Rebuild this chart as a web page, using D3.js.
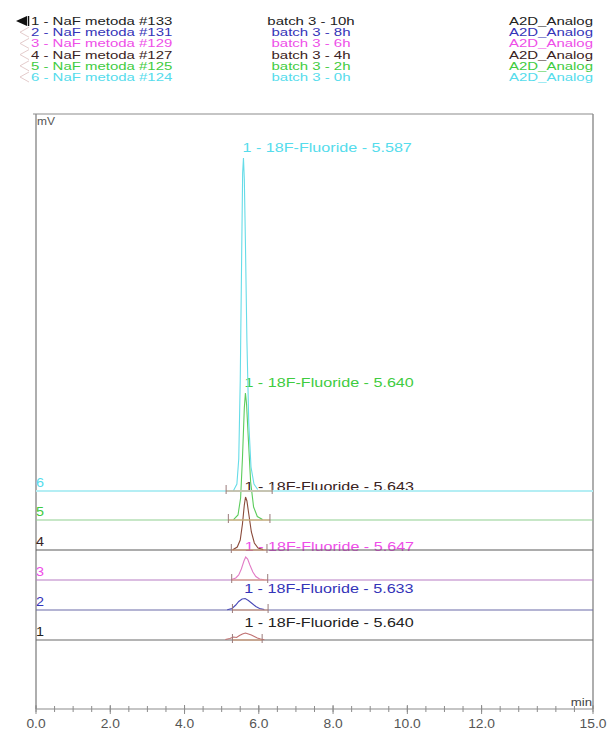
<!DOCTYPE html>
<html>
<head>
<meta charset="utf-8">
<script src="https://cdn.jsdelivr.net/npm/d3@7"></script>
<style>
  html, body { margin: 0; padding: 0; background: #fff; }
  svg { display: block; font-family: "Liberation Sans", Arial, sans-serif; }
</style>
</head>
<body>
<svg id="chart" width="608" height="731"></svg>
<script>
// ---------- data ----------
const traceNames = ["1 - NaF metoda #133", "2 - NaF metoda #131", "3 - NaF metoda #129",
                    "4 - NaF metoda #127", "5 - NaF metoda #125", "6 - NaF metoda #124"];
const batches = ["batch 3 - 10h", "batch 3 - 8h", "batch 3 - 6h", "batch 3 - 4h", "batch 3 - 2h", "batch 3 - 0h"];
const channels = ["A2D_Analog", "A2D_Analog", "A2D_Analog", "A2D_Analog", "A2D_Analog", "A2D_Analog"];
const traceIds = ["1", "2", "3", "4", "5", "6"];
const textColors = ["#222222", "#3434b8", "#ee4ee8", "#3a2222", "#3fcc3f", "#55dcec"];
const lineColors = ["#6a6a6a", "#6a6aa8", "#b87cc4", "#5a5a5a", "#8fd08f", "#b4eef4"];
const peakColors = ["#c07070", "#4a4ab8", "#e27cc6", "#8a4a3a", "#5ccc5c", "#66dce8"];
// stacked-display offsets of each trace (mV)
const offsets = [69, 99, 129, 159, 189, 218];

// retention times (min) and detector signal (mV) for each trace
const t1 = [0, 5.10, 5.22, 5.32, 5.40, 5.48, 5.56, 5.64, 5.72, 5.80, 5.88, 5.96, 6.05, 6.15, 15];
const v1 = [0, 0.5, 1.5, 3.0, 2.5, 4.5, 6.0, 7.0, 6.0, 5.0, 3.5, 2.0, 1.0, 0.3, 0];
const t2 = [0, 5.15, 5.28, 5.38, 5.46, 5.55, 5.633, 5.72, 5.82, 5.92, 6.02, 6.15, 15];
const v2 = [0, 0.3, 1.5, 5.0, 8.5, 11.0, 11.5, 9.5, 6.5, 3.5, 1.5, 0.4, 0];
const t3 = [0, 5.25, 5.38, 5.46, 5.53, 5.60, 5.647, 5.70, 5.76, 5.84, 5.92, 6.02, 6.15, 15];
const v3 = [0, 0.3, 2.0, 5.0, 11.0, 19.0, 23.0, 21.0, 15.0, 8.0, 3.5, 1.0, 0.2, 0];
const t4 = [0, 5.30, 5.42, 5.50, 5.56, 5.61, 5.643, 5.68, 5.73, 5.80, 5.88, 5.98, 6.12, 15];
const v4 = [0, 0.3, 3.0, 10.0, 26.0, 45.0, 53.0, 49.0, 36.0, 18.0, 7.0, 2.0, 0.4, 0];
const t5 = [0, 5.32, 5.44, 5.51, 5.56, 5.61, 5.640, 5.67, 5.72, 5.78, 5.86, 5.96, 6.10, 15];
const v5 = [0, 0.4, 5.0, 22.0, 62.0, 112.0, 127.0, 116.0, 80.0, 38.0, 13.0, 3.5, 0.6, 0];
const t6 = [0, 5.32, 5.41, 5.46, 5.50, 5.54, 5.565, 5.587, 5.61, 5.64, 5.68, 5.73, 5.79, 5.87, 5.97, 15];
const v6 = [0, 0.5, 7.0, 32.0, 110.0, 240.0, 318.0, 333.0, 312.0, 248.0, 150.0, 68.0, 24.0, 7.0, 1.5, 0];
const times = [t1, t2, t3, t4, t5, t6];
const signals = [v1, v2, v3, v4, v5, v6];

// peak integration (start / end, min)
const integStart = [5.29, 5.29, 5.27, 5.26, 5.18, 5.12];
const integEnd = [6.09, 6.25, 6.24, 6.22, 6.30, 6.36];
const peakTimes = [5.640, 5.633, 5.647, 5.643, 5.640, 5.587];
const peakHeights = [7.0, 11.5, 23.0, 53.0, 127.0, 333.0];
const peakLabels = ["1 - 18F-Fluoride - 5.640", "1 - 18F-Fluoride - 5.633", "1 - 18F-Fluoride - 5.647",
                    "1 - 18F-Fluoride - 5.643", "1 - 18F-Fluoride - 5.640", "1 - 18F-Fluoride - 5.587"];

// x axis
const xMajorTicks = [0, 2, 4, 6, 8, 10, 12, 15];
const xTickLabels = ["0.0", "2.0", "4.0", "6.0", "8.0", "10.0", "12.0", "15.0"];
const xMinorStep = 0.5;
const xDomain = [0, 15];
const yDomain = [0, 595];

// ---------- drawing ----------
(function draw() {
const svg = d3.select("#chart");
const pLeft = 36, pRight = 593, pTop = 114, pBottom = 709;
const x = d3.scaleLinear().domain(xDomain).range([pLeft, pRight]);
const y = d3.scaleLinear().domain(yDomain).range([pBottom, pTop]);

// the original export has horizontally widened lettering
function widen(sel, k) {
  sel.each(function () {
    const w = this.getComputedTextLength();
    this.setAttribute("textLength", (w * k).toFixed(1));
    this.setAttribute("lengthAdjust", "spacingAndGlyphs");
  });
  return sel;
}

svg.append("rect").attr("width", 608).attr("height", 731).attr("fill", "#fff");

// legend
const legY0 = 25, legStep = 11.2;
traceNames.forEach((name, i) => {
  const yy = legY0 + i * legStep;
  if (i === 0) {
    svg.append("path").attr("d", `M16,${yy - 4} L27,${yy - 9} L27,${yy + 1} Z`).attr("fill", "#111");
    svg.append("line").attr("x1", 28.5).attr("x2", 28.5).attr("y1", yy - 9).attr("y2", yy + 1)
      .attr("stroke", "#111").attr("stroke-width", 1.5);
  } else {
    svg.append("path").attr("d", `M29,${yy - 9} L20,${yy - 4} L29,${yy + 1}`)
      .attr("fill", "none").attr("stroke", "#e4cccc").attr("stroke-width", 1);
  }
  widen(svg.append("text").attr("x", 31).attr("y", yy).attr("font-size", 11.5)
    .attr("fill", textColors[i]).text(name), 1.3);
  widen(svg.append("text").attr("x", 311).attr("y", yy).attr("font-size", 11.5)
    .attr("text-anchor", "middle").attr("fill", textColors[i]).text(batches[i]), 1.3);
  widen(svg.append("text").attr("x", 593).attr("y", yy).attr("font-size", 11.5)
    .attr("text-anchor", "end").attr("fill", textColors[i]).text(channels[i]), 1.3);
});

// frame
const frameColor = "#8c8c8c";
svg.append("line").attr("x1", 33).attr("x2", pRight).attr("y1", pTop).attr("y2", pTop)
  .attr("stroke", frameColor).attr("stroke-width", 1.2);
svg.append("line").attr("x1", pLeft).attr("x2", pLeft).attr("y1", pTop).attr("y2", pBottom)
  .attr("stroke", frameColor).attr("stroke-width", 1.4);
svg.append("line").attr("x1", pRight).attr("x2", pRight).attr("y1", pTop).attr("y2", pBottom)
  .attr("stroke", frameColor).attr("stroke-width", 1.4);
widen(svg.append("text").attr("x", 37).attr("y", 125).attr("font-size", 10).attr("fill", "#555").text("mV"), 1.2);

// x axis
svg.append("line").attr("x1", pLeft).attr("x2", pRight).attr("y1", pBottom).attr("y2", pBottom)
  .attr("stroke", frameColor).attr("stroke-width", 1.2);
const minorTicks = d3.range(xDomain[0], xDomain[1] + 1e-9, xMinorStep);
svg.append("g").selectAll("line").data(minorTicks).join("line")
  .attr("x1", d => x(d)).attr("x2", d => x(d))
  .attr("y1", pBottom - 3).attr("y2", pBottom + 3)
  .attr("stroke", frameColor).attr("stroke-width", 1);
svg.append("g").selectAll("line").data(xMajorTicks).join("line")
  .attr("x1", d => x(d)).attr("x2", d => x(d))
  .attr("y1", pBottom - 4).attr("y2", pBottom + 5)
  .attr("stroke", frameColor).attr("stroke-width", 1);
widen(svg.append("g").selectAll("text").data(xMajorTicks).join("text")
  .attr("x", d => x(d)).attr("y", 728).attr("text-anchor", "middle")
  .attr("font-size", 12).attr("fill", "#555")
  .text((d, i) => xTickLabels[i]), 1.15);
widen(svg.append("text").attr("x", 592).attr("y", 706).attr("text-anchor", "end")
  .attr("font-size", 11).attr("fill", "#444").text("min"), 1.2);

// traces
const line = d3.line().x(d => x(d[0])).y(d => y(d[1]));
for (let i = 0; i < 6; i++) {
  const pts = times[i].map((t, k) => [t, signals[i][k] + offsets[i]]);
  // full baseline across the run
  svg.append("path").datum([[xDomain[0], offsets[i]], [xDomain[1], offsets[i]]])
    .attr("d", line).attr("fill", "none")
    .attr("stroke", lineColors[i]).attr("stroke-width", i === 5 ? 2.2 : 1.1);
  // peak region
  const peakPts = pts.filter(p => p[0] >= integStart[i] - 0.2 && p[0] <= integEnd[i] + 0.2);
  svg.append("path").datum(peakPts).attr("d", line).attr("fill", "none")
    .attr("stroke", peakColors[i]).attr("stroke-width", 1.1);
  // integration baseline + markers
  svg.append("line")
    .attr("x1", x(integStart[i])).attr("x2", x(integEnd[i]))
    .attr("y1", y(offsets[i])).attr("y2", y(offsets[i]))
    .attr("stroke", "#d89a70").attr("stroke-width", 1);
  [integStart[i], integEnd[i]].forEach(t => {
    svg.append("line").attr("x1", x(t)).attr("x2", x(t))
      .attr("y1", y(offsets[i]) - 6).attr("y2", y(offsets[i]) + 3)
      .attr("stroke", "#9a7a7a").attr("stroke-width", 1);
  });
  // trace id at left
  widen(svg.append("text").attr("x", 36).attr("y", y(offsets[i]) - 4)
    .attr("font-size", 12).attr("fill", textColors[i]).text(traceIds[i]), 1.2);
  // peak label
  widen(svg.append("text").attr("x", x(peakTimes[i]) - 1)
    .attr("y", y(offsets[i] + peakHeights[i]) - 6)
    .attr("font-size", 13).attr("fill", textColors[i]).text(peakLabels[i]), 1.24);
}
})();
</script>
</body>
</html>
